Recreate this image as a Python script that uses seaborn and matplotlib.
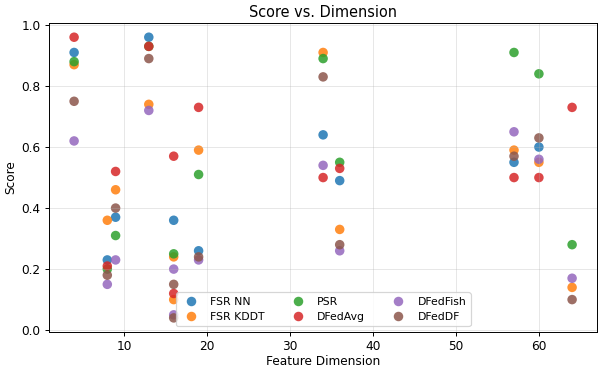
import numpy as np
import pandas as pd
import matplotlib
matplotlib.use("Agg")
import matplotlib.pyplot as plt
import seaborn as sns

# feature dimensions (16 appears twice: two datasets share it)
dims = [4, 8, 9, 13, 16, 16, 19, 34, 36, 57, 60, 64]

fsr_nn   = [0.91, 0.23, 0.37, 0.96, 0.36, np.nan, 0.26, 0.64, 0.49, 0.55, 0.60, np.nan]
fsr_kddt = [0.87, 0.36, 0.46, 0.74, 0.24, 0.10, 0.59, 0.91, 0.33, 0.59, 0.55, 0.14]
psr      = [0.88, 0.20, 0.31, 0.93, 0.25, np.nan, 0.51, 0.89, 0.55, 0.91, 0.84, 0.28]
dfedavg  = [0.96, 0.21, 0.52, 0.93, 0.57, 0.12, 0.73, 0.50, 0.53, 0.50, 0.50, 0.73]
dfedfish = [0.62, 0.15, 0.23, 0.72, 0.20, 0.05, 0.23, 0.54, 0.26, 0.65, 0.56, 0.17]
dfeddf   = [0.75, 0.18, 0.40, 0.89, 0.15, 0.04, 0.24, 0.83, 0.28, 0.57, 0.63, 0.10]

methods = ["FSR NN", "FSR KDDT", "PSR", "DFedAvg", "DFedFish", "DFedDF"]
scores = [fsr_nn, fsr_kddt, psr, dfedavg, dfedfish, dfeddf]

rows = []
for m, vals in zip(methods, scores):
    for d, v in zip(dims, vals):
        if not np.isnan(v):
            rows.append({"Feature Dimension": d, "Score": v, "Method": m})
df = pd.DataFrame(rows)

# the original looks like a bigger figure scaled down, so use a lower dpi
fig, ax = plt.subplots(figsize=(600 / 87, 368 / 87), dpi=87)
sns.scatterplot(data=df, x="Feature Dimension", y="Score", hue="Method",
                hue_order=methods, palette="tab10", s=62, alpha=0.85,
                edgecolor="none", ax=ax)
ax.set_title("Score vs. Dimension", pad=5)
ax.set_xlabel("Feature Dimension", labelpad=1)
ax.grid(True, alpha=0.3)
ax.legend(ncol=3, loc="lower center", title=None, fontsize=9)
plt.subplots_adjust(left=0.082, right=0.995, top=0.937, bottom=0.098)
plt.savefig("out.png")
